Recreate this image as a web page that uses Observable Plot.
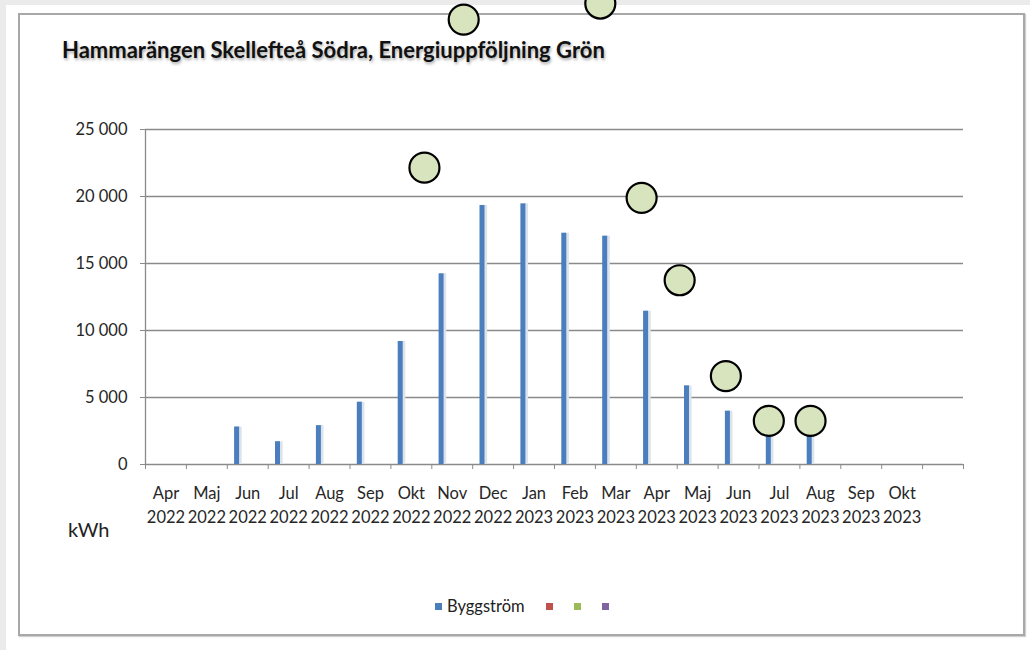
<!DOCTYPE html>
<html>
<head>
<meta charset="utf-8">
<script src="https://cdn.jsdelivr.net/npm/d3@7"></script>
<script src="https://cdn.jsdelivr.net/npm/@observablehq/plot@0.6"></script>
<style>
  html, body { margin: 0; padding: 0; background: #fff; width: 1030px; height: 650px; overflow: hidden; font-family: Lato, "Open Sans", sans-serif; }
  #stripTop { position: absolute; left: 0; top: 0; width: 1030px; height: 5px; background: #ebebeb; }
  #stripLeft { position: absolute; left: 0; top: 0; width: 6px; height: 650px; background: #ebebeb; }
  #frame { position: absolute; left: 18px; top: 13px; width: 1003px; height: 619px; border: 2px solid #a8a8a8; box-shadow: 1px 1px 1px #d0d0d0; }
  #title { position: absolute; left: 62px; top: 36px; font-weight: bold; font-size: 22px; color: #111; text-shadow: 1px 2px 3px rgba(0,0,0,0.35); white-space: nowrap; }
  #unit { position: absolute; left: 68px; top: 517px; font-size: 20px; color: #222; }
  #legend { position: absolute; left: 435px; top: 596px; display: flex; align-items: center; font-size: 16.5px; color: #222; }
  #legend .sw { display: inline-block; width: 7px; height: 7px; }
  #legend .item { display: flex; align-items: center; margin-right: 21px; }
  #legend .item span.lbl { margin-left: 5px; }
  #chart { position: absolute; left: 0; top: 0; }
</style>
</head>
<body>
<div id="stripTop"></div>
<div id="stripLeft"></div>
<div id="frame"></div>
<div id="title">Hammarängen Skellefteå Södra, Energiuppföljning Grön</div>
<div id="unit">kWh</div>
<div id="legend"></div>
<div id="chart"></div>
<script>
// ---- data ----
const months = ["Apr","Maj","Jun","Jul","Aug","Sep","Okt","Nov","Dec","Jan","Feb","Mar","Apr","Maj","Jun","Jul","Aug","Sep","Okt"];
const years  = [2022,2022,2022,2022,2022,2022,2022,2022,2022,2023,2023,2023,2023,2023,2023,2023,2023,2023,2023];
const byggstrom = [null,null,2800,1700,2900,4650,9180,14230,19330,19450,17260,17040,11440,5870,3980,2900,3100,null,null];
const yTicks = [0,5000,10000,15000,20000,25000];
const seriesNames  = ["Byggström","","",""];
const seriesColors = ["#4a7ebd","#c0504d","#9bbb59","#8064a2"];
// overlay circles: position in month units along the axis, value in kWh
const circleMonth = [6.82, 7.78, 11.12, 12.13, 13.06, 14.19, 15.24, 16.26];
const circleKwh   = [22150, 33200, 34400, 19900, 13750, 6600, 3250, 3250];

// ---- build ----
const slots = months.length + 1; // one trailing empty category
const bars = months.map((m, i) => ({i, value: byggstrom[i]})).filter(d => d.value != null);
const circles = circleMonth.map((m, k) => ({m, v: circleKwh[k]}));
const fmt = d => d3.format(",")(d).replace(/,/g, " ");

const chart = Plot.plot({
  width: 1030, height: 650,
  marginLeft: 145, marginRight: 67, marginTop: 129, marginBottom: 186,
  x: {type: "linear", domain: [0, slots], axis: null},
  y: {domain: [0, 25000], axis: null},
  style: {background: "transparent", fontFamily: "Lato, 'Open Sans', sans-serif", fontSize: "16.5px", color: "#262626", overflow: "visible"},
  marks: [
    Plot.ruleY(yTicks, {stroke: "#8a8a8a", strokeWidth: 1.3}),
    Plot.ruleX([0], {stroke: "#8a8a8a", strokeWidth: 1.3}),
    Plot.axisY({ticks: yTicks, tickSize: 5, tickPadding: 13, tickFormat: fmt, stroke: "#8a8a8a", fill: "#262626"}),
    Plot.axisX({ticks: d3.range(0, slots + 1), tickSize: 5, tickFormat: () => "", stroke: "#8a8a8a"}),
    Plot.axisX({ticks: months.map((_, i) => i + 0.5), tickSize: 0, tickPadding: 17.5, lineHeight: 1.45,
      tickFormat: d => { const i = Math.floor(d); return months[i] + "\n" + years[i]; }, fill: "#262626"}),
    Plot.rectY(bars, {x1: "i", x2: d => d.i + 1, y: "value", insetLeft: 9.5, insetRight: 26, fill: "#dde3ec"}),
    Plot.rectY(bars, {x1: "i", x2: d => d.i + 1, y: "value", insetLeft: 7.3, insetRight: 28.6, fill: seriesColors[0]}),
    Plot.dot(circles, {x: "m", y: "v", r: 15, fill: "#d7e4bd", stroke: "#000", strokeWidth: 2.2})
  ]
});
document.getElementById("chart").appendChild(chart);

// legend
const leg = document.getElementById("legend");
seriesNames.forEach((name, k) => {
  const item = document.createElement("div");
  item.className = "item";
  const sw = document.createElement("span");
  sw.className = "sw";
  sw.style.background = seriesColors[k];
  item.appendChild(sw);
  if (name) {
    const l = document.createElement("span");
    l.className = "lbl";
    l.textContent = name;
    item.appendChild(l);
  }
  leg.appendChild(item);
});
</script>
</body>
</html>
